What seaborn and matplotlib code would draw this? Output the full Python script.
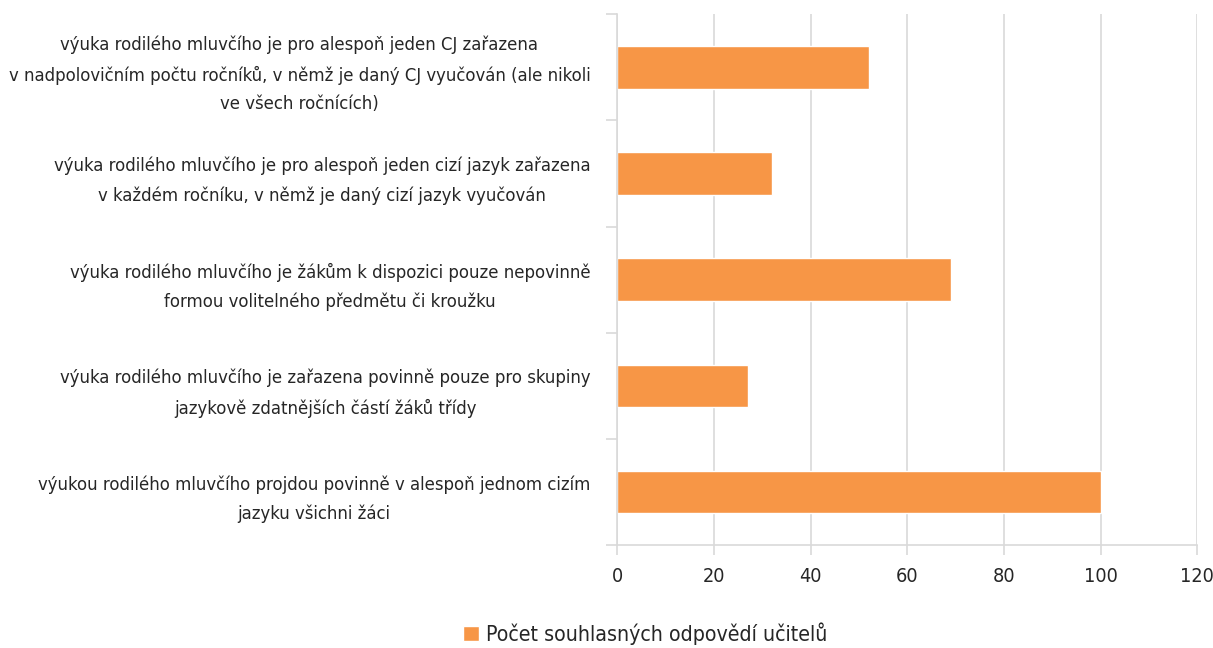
import numpy as np
import pandas as pd
import matplotlib
matplotlib.use('Agg')
import matplotlib.pyplot as plt
import seaborn as sns

# Data
CATEGORIES = [
    'výuka rodilého mluvčího je pro alespoň jeden CJ zařazena\n'
    'v nadpolovičním počtu ročníků, v němž je daný CJ vyučován (ale nikoli\n'
    've všech ročnících)',
    'výuka rodilého mluvčího je pro alespoň jeden cizí jazyk zařazena\n'
    'v každém ročníku, v němž je daný cizí jazyk vyučován',
    'výuka rodilého mluvčího je žákům k dispozici pouze nepovinně\n'
    'formou volitelného předmětu či kroužku',
    'výuka rodilého mluvčího je zařazena povinně pouze pro skupiny\n'
    'jazykově zdatnějších částí žáků třídy',
    'výukou rodilého mluvčího projdou povinně v alespoň jednom cizím\n'
    'jazyku všichni žáci',
]
VALUES = [52, 32, 69, 27, 100]
SERIES = 'Počet souhlasných odpovědí učitelů'
X_TICKS = [0, 20, 40, 60, 80, 100, 120]

BAR_COLOR = '#F79646'
GRID_COLOR = '#D9D9D9'
TEXT_COLOR = '#262626'

sns.set_theme(style='white')
plt.rcParams['font.family'] = ['DejaVu Sans']
plt.rcParams['font.stretch'] = 'condensed'

df = pd.DataFrame({'kategorie': CATEGORIES, 'hodnota': VALUES, 'serie': SERIES})

fig = plt.figure(figsize=(12.13, 6.48), dpi=100)
ax = fig.add_axes([0.509, 0.159, 0.478, 0.819])

sns.barplot(data=df, y='kategorie', x='hodnota', hue='serie', orient='h',
            palette=[BAR_COLOR], saturation=1, width=0.4, ax=ax, legend=True)

ax.set_xlim(0, 120)
ax.set_ylim(len(CATEGORIES) - 0.5, -0.5)
ax.set_xticks(X_TICKS)
ax.set_xlabel('')
ax.set_ylabel('')
ax.xaxis.grid(True, color=GRID_COLOR, linewidth=1.2)
ax.set_axisbelow(True)

for side in ['top', 'right']:
    ax.spines[side].set_visible(False)
for side in ['left', 'bottom']:
    ax.spines[side].set_color(GRID_COLOR)
    ax.spines[side].set_linewidth(1.2)

# category ticks sit between the bars
ax.tick_params(axis='y', which='major', length=0, pad=19.5, labelsize=13.2, labelcolor=TEXT_COLOR)
ax.set_yticks(np.arange(-0.5, len(CATEGORIES)), minor=True)
ax.tick_params(axis='y', which='minor', length=8, width=1.2, color=GRID_COLOR, left=True)
ax.tick_params(axis='x', length=7, width=1.2, color=GRID_COLOR, bottom=True,
               labelsize=14.2, labelcolor=TEXT_COLOR, pad=9)
for lbl in ax.get_yticklabels():
    lbl.set_multialignment('center')
    lbl.set_linespacing(1.75)

leg = ax.legend(loc='center', bbox_to_anchor=(0.532, 0.022), bbox_transform=fig.transFigure,
                frameon=False, fontsize=15.3, handlelength=0.75, handleheight=0.75,
                handletextpad=0.3, borderaxespad=0, borderpad=0)
for t in leg.get_texts():
    t.set_color(TEXT_COLOR)

fig.savefig('out.png', dpi=100)
